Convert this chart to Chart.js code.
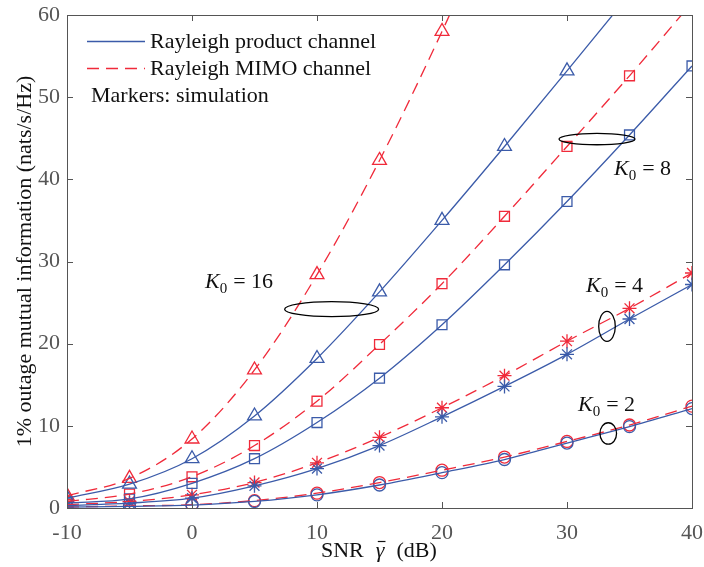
<!DOCTYPE html>
<html>
<head>
<meta charset="utf-8">
<script src="https://cdn.jsdelivr.net/npm/chart.js@4.4.0/dist/chart.umd.min.js"></script>
<style>
  html, body { margin: 0; padding: 0; background: #fff; }
  #wrap { width: 704px; height: 567px; }
</style>
</head>
<body>
<div id="wrap"><canvas id="chart" width="704" height="567"></canvas></div>
<script>
// --- Data ---
const snr = [-10, -5, 0, 5, 10, 15, 20, 25, 30, 35, 40];
const xTicks = [-10, 0, 10, 20, 30, 40];
const yTicks = [0, 10, 20, 30, 40, 50, 60];

const productK16 = [1.2, 2.9, 6.0, 11.2, 18.2, 26.3, 35.0, 44.0, 53.2, 62.5, 72.0];
const mimoK16    = [1.5, 3.6, 8.4, 16.8, 28.4, 42.3, 58.0, 75.0, 93.0, 112.0, 131.0];
const productK8  = [0.6, 1.1, 3.0, 6.0, 10.4, 15.8, 22.3, 29.6, 37.3, 45.4, 53.8];
const mimoK8     = [0.8, 1.7, 3.8, 7.6, 13.0, 19.9, 27.3, 35.5, 44.0, 52.6, 61.5];
const productK4  = [0.3, 0.6, 1.2, 2.7, 4.8, 7.6, 11.1, 14.8, 18.7, 23.0, 27.2];
const mimoK4     = [0.4, 0.8, 1.6, 3.1, 5.5, 8.6, 12.2, 16.1, 20.3, 24.3, 28.6];
const productK2  = [0.1, 0.2, 0.35, 0.8, 1.6, 2.8, 4.3, 5.9, 7.9, 9.9, 12.1];
const mimoK2     = [0.12, 0.25, 0.4, 0.9, 1.8, 3.1, 4.6, 6.2, 8.1, 10.1, 12.4];

const legendLabels = ['Rayleigh product channel', 'Rayleigh MIMO channel', 'Markers: simulation'];

// annotation ellipses (centre in data units, radii in px) and K0 label spots
const groupNotes = [
    { label: '16', cx: 11.17, cy: 24.2, rx: 47, ry: 7.5, tx: 205, ty: 288 },
    { label: '8',  cx: 32.4,  cy: 44.9, rx: 38, ry: 5.7, tx: 614, ty: 175 },
    { label: '4',  cx: 33.2,  cy: 22.1, rx: 8.3, ry: 15, tx: 586, ty: 292 },
    { label: '2',  cx: 33.3,  cy: 9.07, rx: 8.3, ry: 10.7, tx: 578, ty: 411 }
];

const BLUE = '#3b5ba9';
const RED = '#f02a3a';
const AXIS = '#555555';
const FONT = '"Liberation Serif", "Times New Roman", serif';

function toXY(values) {
    return values.map((v, i) => ({ x: snr[i], y: v }));
}

function lineSet(values, color, dashed) {
    return {
        data: toXY(values),
        borderColor: color,
        borderWidth: 1.3,
        borderDash: dashed ? [12, 7] : [],
        pointRadius: 0,
        cubicInterpolationMode: 'monotone',
        fill: false
    };
}

function markerSet(values, color, style, radius) {
    return {
        data: toXY(values),
        showLine: false,
        pointStyle: style,
        pointRadius: radius,
        pointBorderColor: color,
        pointBackgroundColor: 'rgba(0,0,0,0)',
        pointBorderWidth: 1.3,
        borderColor: color
    };
}

// --- Plugin: box, inner ticks, legend, annotations, x title ---
const decorations = {
    id: 'decorations',
    afterDraw(chart) {
        const { ctx, chartArea: a, scales } = chart;
        const xs = scales.x, ys = scales.y;
        ctx.save();

        // box + inner ticks
        ctx.strokeStyle = AXIS;
        ctx.lineWidth = 1;
        ctx.strokeRect(a.left + 0.5, a.top + 0.5, a.right - a.left, a.bottom - a.top);
        ctx.beginPath();
        xTicks.forEach(t => {
            const px = Math.round(xs.getPixelForValue(t)) + 0.5;
            ctx.moveTo(px, a.bottom); ctx.lineTo(px, a.bottom - 6);
            ctx.moveTo(px, a.top); ctx.lineTo(px, a.top + 6);
        });
        yTicks.forEach(t => {
            const py = Math.round(ys.getPixelForValue(t)) + 0.5;
            ctx.moveTo(a.left, py); ctx.lineTo(a.left + 6, py);
            ctx.moveTo(a.right, py); ctx.lineTo(a.right - 6, py);
        });
        ctx.stroke();

        // legend
        ctx.lineWidth = 1.3;
        ctx.strokeStyle = BLUE;
        ctx.setLineDash([]);
        ctx.beginPath(); ctx.moveTo(87, 41.5); ctx.lineTo(145, 41.5); ctx.stroke();
        ctx.strokeStyle = RED;
        ctx.setLineDash([12, 7]);
        ctx.beginPath(); ctx.moveTo(87, 68.5); ctx.lineTo(145, 68.5); ctx.stroke();
        ctx.setLineDash([]);
        ctx.fillStyle = '#111';
        ctx.font = '22px ' + FONT;
        ctx.textBaseline = 'middle';
        ctx.fillText(legendLabels[0], 150, 42);
        ctx.fillText(legendLabels[1], 150, 69);
        ctx.fillText(legendLabels[2], 91, 96);

        // ellipses and K0 labels
        ctx.strokeStyle = '#000';
        ctx.lineWidth = 1.3;
        ctx.textBaseline = 'alphabetic';
        groupNotes.forEach(n => {
            const cx = xs.getPixelForValue(n.cx), cy = ys.getPixelForValue(n.cy);
            ctx.beginPath();
            ctx.ellipse(cx, cy, n.rx, n.ry, 0, 0, Math.PI * 2);
            ctx.stroke();

            let x = n.tx;
            ctx.font = 'italic 22px ' + FONT;
            ctx.fillText('K', x, n.ty);
            x += ctx.measureText('K').width;
            ctx.font = '15px ' + FONT;
            ctx.fillText('0', x, n.ty + 5);
            x += ctx.measureText('0').width + 6;
            ctx.font = '22px ' + FONT;
            ctx.fillText('= ' + n.label, x, n.ty);
        });

        // x axis title: SNR γ̄ (dB), macron drawn by hand
        const base = 557;
        let x = 321;
        ctx.font = '22px ' + FONT;
        ctx.fillText('SNR', x, base);
        x += ctx.measureText('SNR').width + 12;
        ctx.font = 'italic 22px ' + FONT;
        ctx.fillText('γ', x, base);
        const gw = ctx.measureText('γ').width;
        ctx.strokeStyle = '#111';
        ctx.lineWidth = 1.2;
        ctx.beginPath(); ctx.moveTo(x + 2, base - 15.5); ctx.lineTo(x + gw + 1, base - 15.5); ctx.stroke();
        x += gw + 12;
        ctx.font = '22px ' + FONT;
        ctx.fillText('(dB)', x, base);
        ctx.restore();
    }
};

const ctx = document.getElementById('chart').getContext('2d');
new Chart(ctx, {
    type: 'line',
    data: {
        datasets: [
            lineSet(productK16, BLUE, false),
            lineSet(mimoK16, RED, true),
            lineSet(productK8, BLUE, false),
            lineSet(mimoK8, RED, true),
            lineSet(productK4, BLUE, false),
            lineSet(mimoK4, RED, true),
            lineSet(productK2, BLUE, false),
            lineSet(mimoK2, RED, true),
            markerSet(productK16, BLUE, 'triangle', 8),
            markerSet(mimoK16, RED, 'triangle', 8),
            markerSet(productK8, BLUE, 'rect', 7),
            markerSet(mimoK8, RED, 'rect', 7),
            markerSet(productK4, BLUE, 'star', 7),
            markerSet(mimoK4, RED, 'star', 7),
            markerSet(productK2, BLUE, 'circle', 6),
            markerSet(mimoK2, RED, 'circle', 6)
        ]
    },
    options: {
        responsive: false,
        animation: false,
        layout: { padding: { top: 15, right: 12, left: 0, bottom: 0 } },
        plugins: { legend: { display: false }, tooltip: { enabled: false } },
        scales: {
            x: {
                type: 'linear',
                min: -10, max: 40,
                afterFit: s => { s.height = 59; s.paddingLeft = 0; s.paddingRight = 0; },
                afterBuildTicks: s => { s.ticks = xTicks.map(v => ({ value: v })); },
                grid: { display: false, drawTicks: false },
                border: { display: false },
                ticks: { color: '#555', font: { family: FONT, size: 22 }, padding: 12, maxRotation: 0 },
                title: { display: false }
            },
            y: {
                min: 0, max: 60,
                afterFit: s => { s.width = 67; s.paddingTop = 0; s.paddingBottom = 0; },
                afterBuildTicks: s => { s.ticks = yTicks.map(v => ({ value: v })); },
                grid: { display: false, drawTicks: false },
                border: { display: false },
                ticks: { color: '#555', font: { family: FONT, size: 22 }, padding: 7 },
                title: { display: true, text: '1% outage mutual information (nats/s/Hz)', color: '#111', font: { family: FONT, size: 22 }, padding: { top: 12, bottom: 0 } }
            }
        }
    },
    plugins: [decorations]
});
</script>
</body>
</html>
